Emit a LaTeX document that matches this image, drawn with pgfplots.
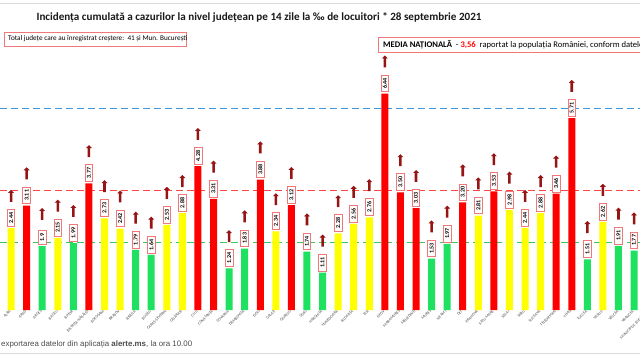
\documentclass[border=0pt]{standalone}
\usepackage{pgfplots}
\pgfplotsset{compat=1.18}
\usepackage{fontspec}
\setmainfont{Carlito}
\newfontfamily\arialf{Liberation Sans}
\usetikzlibrary{shapes.arrows}
\definecolor{bgreen}{RGB}{30,225,95}
\definecolor{byellow}{RGB}{255,255,0}
\definecolor{bred}{RGB}{255,0,0}
\definecolor{dgreen}{RGB}{60,200,90}
\definecolor{dred}{RGB}{255,70,70}
\definecolor{dblue}{RGB}{60,150,220}
\definecolor{arrowred}{RGB}{150,20,20}
\definecolor{boxred}{RGB}{240,120,120}
\begin{document}
\begin{tikzpicture}
\clip (0pt,0pt) rectangle (640pt,359pt);
\fill[white] (0pt,0pt) rectangle (640pt,359pt);
\draw[black!15, line width=0.6pt] (0pt,356pt) -- (640pt,356pt);
\draw[black!15, line width=0.6pt] (0pt,6pt) -- (640pt,6pt);
\begin{axis}[
  at={(0pt,49pt)}, anchor=south west,
  scale only axis, x=15.575pt, y=33.6pt,
  xmin=-0.71, xmax=42, ymin=0, ymax=8.5,
  axis line style={draw=none}, major tick length=0pt,
  ytick=\empty,
  xtick={0,...,41},
  xticklabels={ALBA,ARAD,ARGEȘ,BACĂU,BIHOR,BISTRIȚA-NĂSĂUD,BOTOȘANI,BRAȘOV,BRĂILA,BUZĂU,CARAȘ-SEVERIN,CĂLĂRAȘI,CLUJ,CONSTANȚA,COVASNA,DÂMBOVIȚA,DOLJ,GALAȚI,GIURGIU,GORJ,HARGHITA,HUNEDOARA,IALOMIȚA,IAȘI,ILFOV,MARAMUREȘ,MEHEDINȚI,MUREȘ,NEAMȚ,OLT,PRAHOVA,SATU MARE,SĂLAJ,SIBIU,SUCEAVA,TELEORMAN,TIMIȘ,TULCEA,VASLUI,VÂLCEA,VRANCEA,MUNICIPIUL BUCUREȘTI},
  xticklabel style={rotate=45, anchor=east, font=\fontsize{4}{4}\selectfont, text=black!70, inner sep=1pt},
  clip=false,
  valuelab/.style={
    point meta=explicit symbolic,
    nodes near coords,
    every node near coord/.style={draw=boxred, line width=0.7pt, fill=white, text=black,
      font=\fontsize{6}{6}\selectfont\bfseries, inner xsep=3pt, inner ysep=1.8pt,
      yshift=1.5pt, rotate=90, anchor=west}
  }
]
% reference lines
\addplot[dgreen, line width=1.2pt, dash pattern=on 7pt off 4pt, sharp plot] coordinates {(-0.71,2) (42,2)};
\addplot[dred, line width=1.2pt, dash pattern=on 7pt off 4pt, sharp plot] coordinates {(-0.71,3.56) (42,3.56)};
\addplot[dblue, line width=1.2pt, dash pattern=on 7pt off 4pt, sharp plot] coordinates {(-0.71,6) (42,6)};
% bars
\addplot[ybar, bar width=7pt, bar shift=0pt, fill=bgreen, draw=none, valuelab] coordinates {
 (2,1.90) [1.9] (4,1.99) [1.99] (8,1.79) [1.79] (9,1.64) [1.64] (14,1.24) [1.24] (15,1.83) [1.83]
 (19,1.74) [1.74] (20,1.11) [1.11] (27,1.53) [1.53] (28,1.97) [1.97] (37,1.51) [1.51] (39,1.91) [1.91] (40,1.77) [1.77]};
\addplot[ybar, bar width=7pt, bar shift=0pt, fill=byellow, draw=none, valuelab] coordinates {
 (0,2.44) [2.44] (3,2.15) [2.15] (6,2.73) [2.73] (7,2.42) [2.42] (10,2.53) [2.53] (11,2.88) [2.88]
 (17,2.34) [2.34] (21,2.28) [2.28] (22,2.56) [2.56] (23,2.76) [2.76] (30,2.81) [2.81] (32,2.98) [2.98]
 (33,2.44) [2.44] (34,2.88) [2.88] (38,2.62) [2.62]};
\addplot[ybar, bar width=7pt, bar shift=0pt, fill=bred, draw=none, valuelab] coordinates {
 (1,3.11) [3.11] (5,3.77) [3.77] (12,4.28) [4.28] (13,3.31) [3.31] (16,3.88) [3.88] (18,3.12) [3.12]
 (24,6.44) [6.44] (25,3.50) [3.50] (26,3.03) [3.03] (29,3.20) [3.20] (31,3.53) [3.53] (35,3.46) [3.46] (36,5.71) [5.71]};
% increase arrows
\addplot[draw=none, mark=none, nodes near coords={},
  every node near coord/.style={single arrow, fill=arrowred, draw=none, minimum height=12pt,
    minimum width=6pt, single arrow head extend=1.5pt, inner sep=0.9pt,
    shape border rotate=90, anchor=tail, yshift=26pt}] coordinates {
 (0,2.44) (1,3.11) (2,1.90) (3,2.15) (4,1.99) (5,3.77) (6,2.73) (7,2.42) (8,1.79) (9,1.64)
 (10,2.53) (11,2.88) (12,4.28) (13,3.31) (14,1.24) (15,1.83) (16,3.88) (17,2.34) (18,3.12) (19,1.74)
 (20,1.11) (21,2.28) (22,2.56) (23,2.76) (24,6.44) (25,3.50) (26,3.03) (27,1.53) (28,1.97) (29,3.20)
 (30,2.81) (31,3.53) (32,2.98) (33,2.44) (34,2.88) (35,3.46) (36,5.71) (37,1.51) (38,2.62) (39,1.91) (40,1.77)};
\end{axis}
% title
\node[font=\fontsize{11.1}{13}\selectfont\bfseries, text=black!90] at (259pt,341pt)
  {Incidența cumulată a cazurilor la nivel județean pe 14 zile la ‰ de locuitori * 28 septembrie 2021};
% info boxes
\draw[boxred, line width=0.8pt, fill=white] (4pt,313pt) rectangle (186pt,327pt);
\node[anchor=west, font=\fontsize{7.2}{8}\selectfont, inner sep=0pt] at (8pt,320pt)
  {Total județe care au înregistrat creștere:\ \ 41 și Mun. București};
\draw[boxred, line width=0.8pt, fill=white] (378pt,307pt) rectangle (700pt,322pt);
\node[anchor=west, font=\fontsize{8.6}{9}\selectfont, inner sep=0pt] at (383pt,314.5pt)
  {{\bfseries MEDIA NAȚIONALĂ}\ \ -\ {\color{bred}\bfseries 3,56}\ \ raportat la populația României, conform datelor};
% footer
\node[anchor=west, font=\arialf\fontsize{7.9}{9}\selectfont, text=black!70, inner sep=0pt] at (1pt,15pt)
  {exportarea datelor din aplicația \textbf{alerte.ms}, la ora 10.00};
\end{tikzpicture}
\end{document}
